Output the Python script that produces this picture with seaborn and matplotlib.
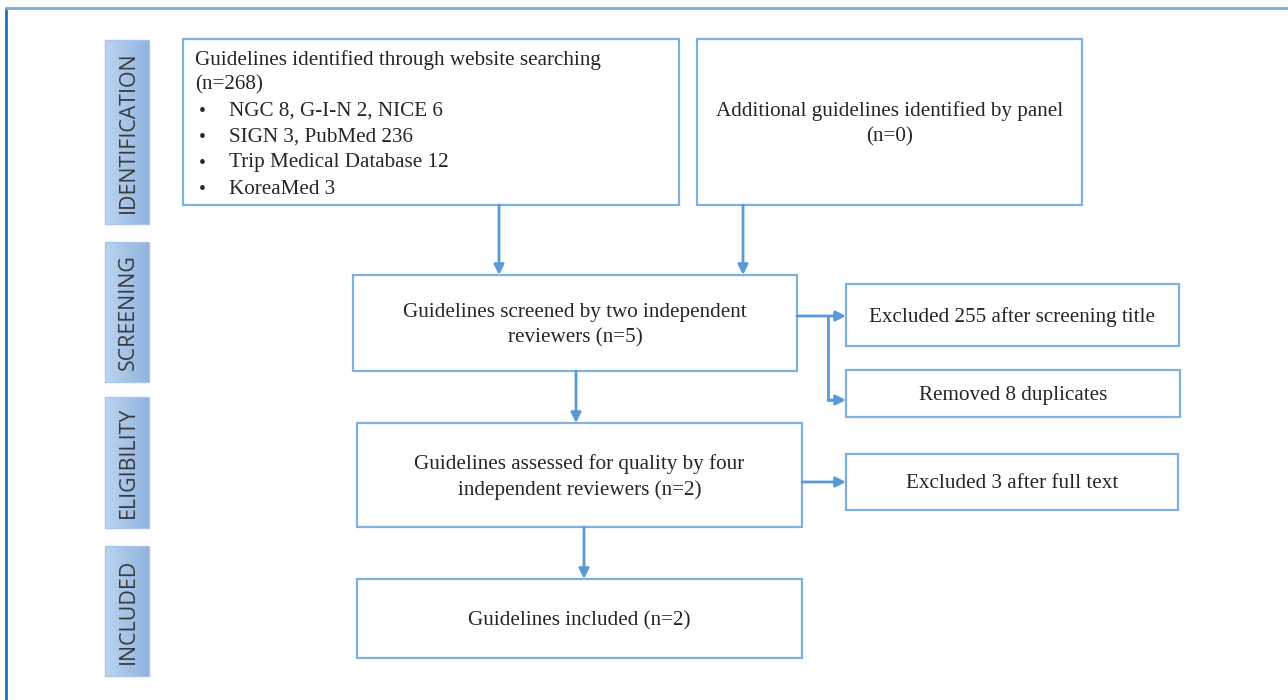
import matplotlib.pyplot as plt
import seaborn as sns
import numpy as np
from matplotlib.patches import Rectangle

# stages on the left
stages = ['IDENTIFICATION', 'SCREENING', 'ELIGIBILITY', 'INCLUDED']
stage_y = [(40, 224), (242, 382), (397, 528), (546, 676)]

# boxes: (x0, y0, x1, y1) in pixel space
box_names = ['identified', 'panel', 'screened', 'excl255', 'dup', 'assessed', 'excl3', 'included']
box_pos = [(183, 39, 679, 205), (697, 39, 1082, 205), (353, 275, 797, 371),
           (846, 284, 1179, 346), (846, 370, 1180, 417), (357, 423, 802, 527),
           (846, 454, 1178, 510), (357, 579, 802, 658)]
box_text = {
    'panel': 'Additional guidelines identified by panel\n(n=0)',
    'screened': 'Guidelines screened by two independent\nreviewers (n=5)',
    'excl255': 'Excluded 255 after screening title',
    'dup': 'Removed 8 duplicates',
    'assessed': 'Guidelines assessed for quality by four\nindependent reviewers (n=2)',
    'excl3': 'Excluded 3 after full text',
    'included': 'Guidelines included (n=2)',
}
ident_head = ['Guidelines identified through website searching', '(n=268)']
ident_bullets = ['NGC 8, G-I-N 2, NICE 6', 'SIGN 3, PubMed 236',
                 'Trip Medical Database 12', 'KoreaMed 3']

W, H = 1288, 700
FS = 15.2
sns.set_theme(style='white')
plt.rcParams['font.family'] = ['Liberation Serif', 'DejaVu Serif']

fig = plt.figure(figsize=(W / 100, H / 100), dpi=100)
ax = fig.add_axes([0, 0, 1, 1])
ax.set_xlim(0, W)
ax.set_ylim(H, 0)
ax.axis('off')

edge = '#7eb0e0'
arrow_c = '#5b9bd5'
txt_c = '#262626'

# outer frame
ax.plot([6, 6], [8, H + 5], color='#1f6fc5', lw=2)
ax.plot([6, W + 5], [8, 8], color='#78aee0', lw=2)

# stage labels with gradient
grad = np.linspace(0, 1, 64).reshape(1, -1)
cmap = sns.blend_palette(['#bdd4ef', '#8fb3e0'], as_cmap=True)
for name, (y0, y1) in zip(stages, stage_y):
    x0, x1 = 105, 149
    im = ax.imshow(grad, cmap=cmap, extent=(x0, x1, y1, y0), aspect='auto', zorder=1)
    r = Rectangle((x0, y0), x1 - x0, y1 - y0, fc='none', ec='#a8c6ea', lw=1, zorder=2)
    ax.add_patch(r)
    im.set_clip_path(r)
    ax.text((x0 + x1) / 2 + 1, (y0 + y1) / 2, name, rotation=90, ha='center', va='center',
            fontsize=15.4, color='#3a3a3a', family=['Open Sans', 'DejaVu Sans'], zorder=3)

# boxes
pos = dict(zip(box_names, box_pos))
for name, (x0, y0, x1, y1) in pos.items():
    ax.add_patch(Rectangle((x0, y0), x1 - x0, y1 - y0, fc='white', ec=edge, lw=1.6, zorder=2))
    if name in box_text:
        ax.text((x0 + x1) / 2, (y0 + y1) / 2 + 2, box_text[name], ha='center', va='center',
                fontsize=FS, color=txt_c, linespacing=1.45, zorder=3)

# identification box text
ax.text(195, 60, ident_head[0], ha='left', va='center', fontsize=FS, color=txt_c, zorder=3)
ax.text(195, 85, ident_head[1], ha='left', va='center', fontsize=FS, color=txt_c, zorder=3)
for i, b in enumerate(ident_bullets):
    yy = 111 + i * 26
    ax.text(199, yy, '\u2022', ha='left', va='center', fontsize=14, color=txt_c, zorder=3)
    ax.text(229, yy, b, ha='left', va='center', fontsize=FS, color=txt_c, zorder=3)

# arrows
def arrow(x0, y0, x1, y1):
    ax.annotate('', xy=(x1, y1), xytext=(x0, y0),
                arrowprops=dict(arrowstyle='-|>,head_length=0.5,head_width=0.25',
                                color=arrow_c, lw=2, shrinkA=0, shrinkB=0), zorder=4)

arrow(499, 205, 499, 275)
arrow(743, 205, 743, 275)
arrow(576, 371, 576, 423)
arrow(584, 527, 584, 579)
arrow(797, 316, 846, 316)
ax.plot([828, 828, 836], [316, 400, 400], color=arrow_c, lw=2, zorder=4)
arrow(828, 400, 846, 400)
arrow(802, 482, 846, 482)

fig.savefig('out.png', dpi=100, facecolor='white')
